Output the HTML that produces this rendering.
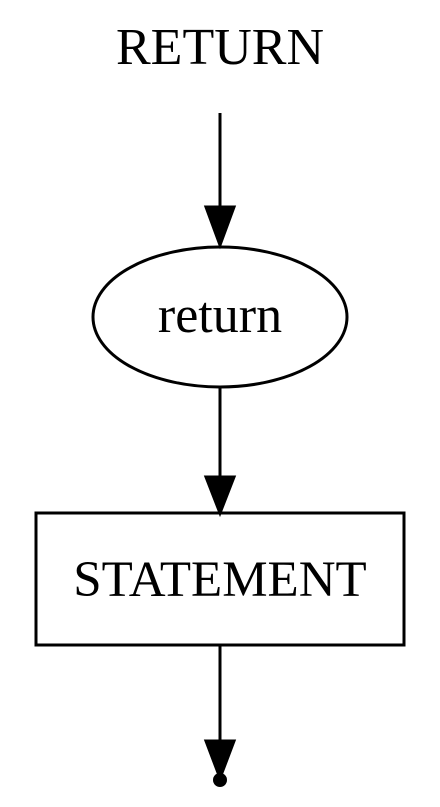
<!DOCTYPE html>
<html><head><style>html,body{margin:0;padding:0;background:#fff;}</style></head>
<body>
<svg width="440" height="802" viewBox="0 0 440 802" xmlns="http://www.w3.org/2000/svg">
<g font-family="Liberation Serif, serif" fill="#000" text-anchor="middle">
<text x="220" y="64" font-size="52">RETURN</text>
<text x="220" y="332" font-size="52">return</text>
<text x="220" y="596" font-size="51">STATEMENT</text>
</g>
<g stroke="#000" stroke-width="3" fill="none">
<line x1="220" y1="113" x2="220" y2="208"/>
<ellipse cx="220" cy="317" rx="127" ry="70"/>
<line x1="220" y1="387" x2="220" y2="478"/>
<rect x="36" y="513" width="368" height="132"/>
<line x1="220" y1="645" x2="220" y2="742"/>
</g>
<g fill="#000" stroke="#000" stroke-width="3">
<polygon points="206,207 234,207 220,245"/>
<polygon points="206,477 234,477 220,513"/>
<polygon points="206,741 234,741 220,778"/>
<circle cx="220" cy="780" r="7" stroke="none"/>
</g>
</svg>
</body></html>
